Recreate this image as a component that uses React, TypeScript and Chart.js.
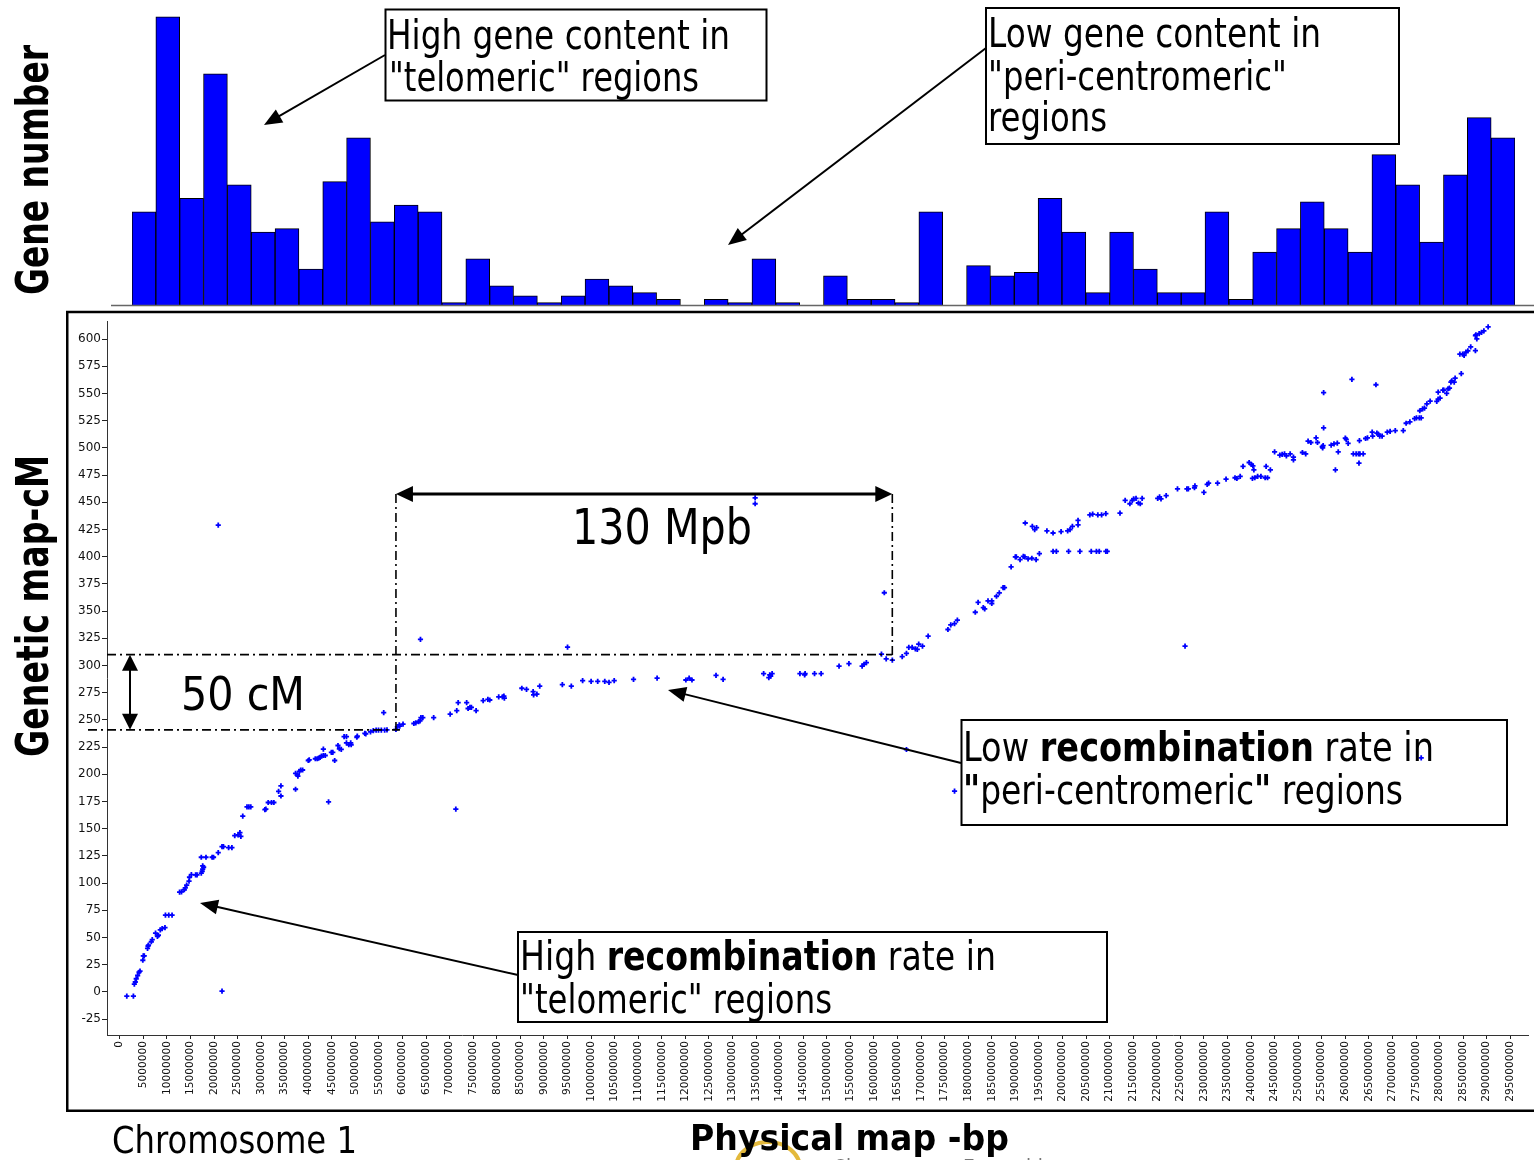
import React, { useEffect, useRef } from "react";
import { Chart, registerables } from "chart.js";

Chart.register(...registerables);
Chart.defaults.font.family = "DejaVu Sans";

// ---------- DATA ----------
// Gene number per 5 Mb bin (histogram on top)
const HIST_GENE_COUNTS = [
  28, 86, 32, 69, 36, 22, 23, 11, 37, 50, 25, 30, 28, 1, 14, 6, 3, 1, 3, 8,
  6, 4, 2, 0, 2, 1, 14, 1, 0, 9, 2, 2, 1, 28, 0, 12, 9, 10, 32, 22,
  4, 22, 11, 4, 4, 28, 2, 16, 23, 31, 23, 16, 45, 36, 19, 39, 56, 50,
];

// Physical position tick values (Mb) and their labels (bp)
const X_TICKS_MB = [
  0, 5, 10, 15, 20, 25, 30, 35, 40, 45, 50, 55, 60, 65, 70, 75, 80, 85, 90, 95,
  100, 105, 110, 115, 120, 125, 130, 135, 140, 145, 150, 155, 160, 165, 170, 175, 180, 185, 190, 195,
  200, 205, 210, 215, 220, 225, 230, 235, 240, 245, 250, 255, 260, 265, 270, 275, 280, 285, 290, 295,
];
const X_TICK_LABELS = [
  "0", "5000000", "10000000", "15000000", "20000000", "25000000", "30000000", "35000000", "40000000", "45000000",
  "50000000", "55000000", "60000000", "65000000", "70000000", "75000000", "80000000", "85000000", "90000000", "95000000",
  "100000000", "105000000", "110000000", "115000000", "120000000", "125000000", "130000000", "135000000", "140000000", "145000000",
  "150000000", "155000000", "160000000", "165000000", "170000000", "175000000", "180000000", "185000000", "190000000", "195000000",
  "200000000", "205000000", "210000000", "215000000", "220000000", "225000000", "230000000", "235000000", "240000000", "245000000",
  "250000000", "255000000", "260000000", "265000000", "270000000", "275000000", "280000000", "285000000", "290000000", "295000000",
];
const Y_TICKS_CM = [
  -25, 0, 25, 50, 75, 100, 125, 150, 175, 200, 225, 250, 275, 300, 325, 350, 375, 400, 425, 450,
  475, 500, 525, 550, 575, 600,
];
const X_RANGE_MB = [-2.7, 298.8];
const Y_RANGE_CM = [-39.7, 616.4];

// Marker positions: [physical position (Mb), genetic position (cM)]
const MARKERS: number[][] = [
  [1.5, -4], [2.9, -4], [3.1, 7], [3.3, 9], [3.5, 12], [3.8, 15], [4.1, 18], [4.3, 19],
  [4.9, 29], [5.0, 33], [5.2, 33], [5.9, 40], [6.0, 42], [6.1, 43], [6.7, 46], [6.9, 48],
  [7.6, 54], [8.0, 51], [8.2, 52], [8.6, 57], [9.0, 58], [9.6, 59], [9.7, 70.5], [10.4, 70.5], [11.1, 70.5],
  [12.7, 91.6], [13.1, 91.9], [13.7, 93.8], [13.9, 95.6], [14.2, 98], [14.7, 101.7], [14.8, 105.3], [15.2, 107.8], [16.1, 107.5], [16.4, 107.5],
  [17.3, 109], [17.5, 110.8], [17.6, 112.7], [17.8, 114.5], [17.6, 115.8], [17.3, 123.7], [18.3, 123.7], [19.6, 123.7], [19.9, 123.7],
  [20.9, 128], [20.9, 429], [21.7, 133.5], [22.0, 133.5], [21.7, 0.7], [23.1, 132.5], [23.8, 132.5],
  [24.4, 143.6], [25.1, 144.2], [25.5, 146.3], [25.7, 142.9], [26.1, 161.5], [27.0, 170], [27.4, 170], [27.8, 170],
  [30.8, 167.5], [31.0, 168], [31.5, 174], [32.2, 174], [32.7, 174], [33.7, 184.2], [34.2, 189.2], [34.2, 180],
  [37.3, 186.2], [37.3, 200.7], [37.7, 199.5], [37.8, 198.3], [38.1, 202.6], [38.4, 203.9], [38.8, 203.9],
  [40.0, 212.6], [40.2, 213.2], [41.5, 214.2], [41.9, 214.2], [42.2, 214.8], [42.5, 215.4], [42.8, 216.7], [43.2, 217.2], [43.6, 217.2],
  [43.2, 223], [44.3, 174.5], [44.9, 220], [45.2, 220], [45.6, 212.6], [46.3, 226.4], [46.6, 223.4], [47.0, 222.8],
  [47.6, 234.6], [48.1, 234.6], [48.1, 228.9], [48.6, 227.1], [49.1, 227.1], [49.0, 228.9], [50.3, 234], [50.4, 235],
  [52.0, 237.5], [52.2, 237], [53.2, 239], [53.8, 240], [54.4, 240.6], [54.9, 240.6], [55.5, 240.6], [56.2, 240.6], [56.7, 240.8],
  [56.0, 256.7], [58.6, 241.1], [58.9, 243.6], [59.3, 245.4], [59.4, 244.2], [60.1, 246.1],
  [62.4, 246.6], [62.8, 247.2], [63.4, 248.4], [63.7, 249.1], [63.9, 252], [64.3, 252], [63.8, 324], [66.6, 252],
  [70.1, 255.3], [71.3, 168], [71.5, 258.4], [71.8, 265.8], [73.6, 265.8], [73.9, 260.4], [74.3, 261.5], [74.6, 261.5], [75.6, 258.4],
  [77.1, 267.6], [78.1, 268.8], [78.5, 268.2], [80.4, 271.1], [81.2, 271.1], [81.5, 271.7], [81.6, 269.9],
  [85.3, 279], [86.3, 277.9], [87.7, 276], [87.8, 273], [88.5, 273.7], [89.1, 281], [93.9, 282.3], [95.0, 316.8], [95.8, 281],
  [98.2, 286], [100.0, 285.3], [101.4, 285.3], [102.9, 285.3], [103.8, 284.4], [104.9, 286], [109.0, 287.2], [114.0, 288.4],
  [120.1, 286.6], [120.8, 288.4], [121.4, 286.6], [126.5, 290.8], [128.0, 287.2], [134.8, 454], [134.8, 448.6],
  [136.6, 292.5], [137.7, 288.8], [137.9, 291.3], [138.1, 290.1], [138.4, 292.5],
  [144.3, 292.5], [145.3, 291.3], [145.4, 292.5], [147.4, 292.5], [148.8, 292.5],
  [152.6, 299.3], [154.7, 301.7], [157.5, 299.3], [157.9, 301.1], [158.4, 302.6],
  [161.6, 310.4], [162.2, 366.8], [162.6, 306.1], [163.9, 304.9],
  [166.0, 308], [166.9, 311], [166.9, 222.7], [167.4, 316.5], [168.1, 316.5], [168.8, 315.3], [169.2, 314.7], [169.5, 319.6], [170.3, 317.8],
  [171.5, 327], [175.7, 333], [176.3, 337.3], [177.1, 338.5], [177.1, 184.4], [177.7, 341.6],
  [181.5, 348.9], [182.1, 358], [183.2, 353.2], [183.5, 352], [184.2, 359.3], [185.0, 359.3], [185.0, 356.9], [186.0, 363.6], [186.6, 366.7], [187.4, 371.6], [187.7, 371.6],
  [189.1, 390.6], [190.0, 399.7], [190.2, 399.7], [191.0, 397.2], [191.7, 400.3], [192.0, 399.7], [192.7, 397.9], [193.5, 398.5], [194.4, 397.2], [195.1, 402.8],
  [192.1, 430.9], [193.6, 427.8], [194.1, 424.8], [194.5, 426.6], [196.7, 423.6], [198.0, 421.7], [199.7, 422.9], [201.1, 423.6], [201.6, 424.8], [202.1, 427.8], [203.3, 429.1], [203.3, 433.3],
  [198.0, 404.9], [198.7, 404.9], [201.3, 404.9], [203.7, 404.9], [206.1, 404.9], [207.2, 404.9], [207.8, 404.9], [209.2, 404.9], [209.5, 404.9],
  [205.8, 438.3], [206.4, 439], [207.5, 438.3], [208.3, 438.3], [209.2, 439.5], [212.2, 440],
  [213.3, 451.7], [214.3, 448.6], [214.8, 451.7], [215.1, 453], [215.6, 453.6], [216.1, 449.3], [216.5, 448.6], [216.9, 453.6],
  [220.2, 453.6], [220.6, 454.9], [220.9, 453.1], [222.0, 456.1],
  [224.4, 462.2], [226.0, 317.8], [226.4, 462.2], [226.7, 462.2], [228.0, 463.3], [228.1, 465.1], [230.0, 459], [230.7, 466.4], [231.0, 467.6], [232.9, 467.6],
  [234.7, 471.3], [236.6, 472.5], [237.0, 471.8], [237.7, 473.7], [238.3, 482.9],
  [239.6, 486.5], [240.1, 484.7], [240.4, 483.5], [240.6, 479.8], [240.3, 471.9], [240.8, 472.5],
  [241.4, 473.7], [242.1, 473.7], [243.0, 472.5], [243.5, 472.5], [243.2, 482.9], [244.1, 479.8], [245.0, 496.3],
  [246.1, 493.3], [246.6, 493.9], [247.1, 494.5], [247.5, 492.7], [248.3, 494.5], [249.0, 491.5], [249.0, 489],
  [250.9, 495.7], [251.6, 494.5], [252.1, 506.1], [252.7, 504.9], [253.8, 509.2], [254.1, 504.9],
  [255.4, 550.7], [255.4, 518.3], [255.2, 500], [255.3, 502], [255.1, 501],
  [257.0, 502.5], [257.6, 503.7], [258.3, 504.3], [257.9, 479.8], [258.5, 496.3],
  [260.0, 509], [260.2, 507.8], [260.6, 504.1], [261.4, 563],
  [261.7, 494.5], [262.3, 494.5], [262.8, 494.5], [263.1, 494.5], [263.8, 494.5], [262.9, 486], [263.0, 506.7],
  [264.3, 508.6], [264.7, 509.2], [265.7, 514.5], [265.8, 510.8], [266.7, 513.5], [267.0, 512.6], [267.3, 510.8], [267.8, 510.8], [266.5, 558],
  [268.9, 514.5], [269.5, 515.1], [270.6, 515.8], [272.3, 515.8], [272.9, 522.6], [273.7, 523.8],
  [274.7, 526.8], [275.1, 527.5], [275.7, 527.5], [276.1, 527.5], [275.8, 534.1], [276.4, 535.9], [276.8, 536.5], [276.1, 215],
  [277.3, 540.4], [278.0, 542.9], [279.4, 542.7], [279.7, 544.7], [280.1, 545.7], [279.7, 551.2],
  [280.7, 553], [280.9, 553], [281.5, 550], [281.8, 554.3], [282.1, 554.9],
  [282.4, 560.4], [282.6, 561.6], [283.1, 560.4], [283.3, 564.1], [284.6, 568.2],
  [284.3, 586.1], [284.9, 586.1], [285.2, 584.9], [285.6, 587.9], [286.0, 589.2], [286.6, 592.8], [287.6, 589.3],
  [287.6, 603.2], [287.9, 600.2], [287.7, 603.9], [288.4, 605.0], [288.9, 606.2], [289.4, 607.5], [290.3, 611.2],
];

// Annotation reference values
const SPAN_START_MB = 58.6;
const SPAN_END_MB = 163.9;
const SPAN_ARROW_CM = 457.5;
const CM_HIGH = 309.9;
const CM_LOW = 240.8;

// ---------- PLUGIN: dash-dot guides and double arrows ----------
function tri(ctx: any, tx: number, ty: number, dx: number, dy: number, len: number, half: number) {
  const L = Math.hypot(dx, dy);
  const ux = dx / L, uy = dy / L;
  const bx = tx - ux * len, by = ty - uy * len;
  ctx.beginPath();
  ctx.moveTo(tx, ty);
  ctx.lineTo(bx - uy * half, by + ux * half);
  ctx.lineTo(bx + uy * half, by - ux * half);
  ctx.closePath();
  ctx.fill();
}

const guidePlugin = {
  id: "guides",
  afterDraw(chart: any) {
    const { ctx, chartArea } = chart;
    const x = chart.scales.x, y = chart.scales.y;
    const xa = x.getPixelForValue(SPAN_START_MB);
    const xb = x.getPixelForValue(SPAN_END_MB);
    const ya = y.getPixelForValue(SPAN_ARROW_CM);
    const yt = y.getPixelForValue(CM_HIGH);
    const yb = y.getPixelForValue(CM_LOW);
    ctx.save();
    ctx.strokeStyle = "#000";
    ctx.fillStyle = "#000";
    ctx.lineWidth = 1.6;
    ctx.setLineDash([9, 4, 2, 4]);
    const seg = (x1: number, y1: number, x2: number, y2: number) => {
      ctx.beginPath();
      ctx.moveTo(x1, y1);
      ctx.lineTo(x2, y2);
      ctx.stroke();
    };
    seg(chartArea.left, yt, xb, yt);
    seg(chartArea.left - 19, yb, xa + 4, yb);
    seg(xa, ya, xa, yb);
    seg(xb, ya, xb, yt + 6);
    ctx.setLineDash([]);
    // horizontal double arrow
    ctx.lineWidth = 3;
    seg(xa + 12, ya, xb - 12, ya);
    tri(ctx, xa, ya, -1, 0, 17, 8);
    tri(ctx, xb, ya, 1, 0, 17, 8);
    // vertical double arrow
    const xv = chartArea.left + 23;
    ctx.lineWidth = 2;
    seg(xv, yt + 12, xv, yb - 12);
    tri(ctx, xv, yt, 0, -1, 16, 8);
    tri(ctx, xv, yb, 0, 1, 16, 8);
    ctx.restore();
  },
};

// ---------- SVG helpers ----------
const FONT = "DejaVu Sans";

function Arrow({ x1, y1, x2, y2, head = 18, half = 7.5, w = 2 }: any) {
  const L = Math.hypot(x2 - x1, y2 - y1);
  const ux = (x2 - x1) / L, uy = (y2 - y1) / L;
  const bx = x2 - ux * head, by = y2 - uy * head;
  const pts = `${x2},${y2} ${bx - uy * half},${by + ux * half} ${bx + uy * half},${by - ux * half}`;
  return (
    <g>
      <line x1={x1} y1={y1} x2={bx + ux * 2} y2={by + uy * 2} stroke="#000" strokeWidth={w} />
      <polygon points={pts} fill="#000" />
    </g>
  );
}

function T({ x, y, len, size, bold, children, fill = "#000" }: any) {
  return (
    <text
      x={x}
      y={y}
      fontFamily={FONT}
      fontSize={size}
      fontWeight={bold ? "bold" : "normal"}
      textLength={len}
      lengthAdjust="spacingAndGlyphs"
      fill={fill}
    >
      {children}
    </text>
  );
}

export default function App() {
  const histRef = useRef<HTMLCanvasElement | null>(null);
  const scatRef = useRef<HTMLCanvasElement | null>(null);

  useEffect(() => {
    document.body.style.margin = "0";
    const hist = new Chart(histRef.current as HTMLCanvasElement, {
      type: "bar",
      data: {
        labels: X_TICKS_MB.slice(0, HIST_GENE_COUNTS.length).map(String),
        datasets: [
          {
            data: HIST_GENE_COUNTS,
            backgroundColor: "#0000ff",
            borderColor: "#000",
            borderWidth: 1,
            barPercentage: 1,
            categoryPercentage: 1,
          },
        ],
      },
      options: {
        responsive: false,
        animation: false,
        devicePixelRatio: 1,
        layout: { padding: 0 },
        plugins: { legend: { display: false }, tooltip: { enabled: false } },
        scales: {
          x: { display: false },
          y: { display: false, min: 0, max: 88 },
        },
      },
    } as any);

    const scat = new Chart(scatRef.current as HTMLCanvasElement, {
      type: "scatter",
      data: {
        datasets: [
          {
            data: MARKERS.map(([x, y]) => ({ x, y })),
            pointStyle: "cross",
            pointRadius: 2.6,
            borderColor: "#0000ff",
            backgroundColor: "#0000ff",
            borderWidth: 1.8,
          },
        ],
      },
      options: {
        responsive: false,
        animation: false,
        devicePixelRatio: 1,
        layout: { padding: { top: 5, right: 4, left: 0, bottom: 0 } },
        plugins: { legend: { display: false }, tooltip: { enabled: false } },
        scales: {
          x: {
            type: "linear",
            min: X_RANGE_MB[0],
            max: X_RANGE_MB[1],
            afterBuildTicks: (s: any) => {
              s.ticks = X_TICKS_MB.map((v) => ({ value: v }));
            },
            afterFit: (s: any) => {
              s.height = 74;
            },
            ticks: {
              autoSkip: false,
              minRotation: 90,
              maxRotation: 90,
              padding: 2,
              color: "#111",
              font: { size: 10.6, family: FONT },
              callback: (_v: any, i: number) => X_TICK_LABELS[i],
            },
            grid: { drawOnChartArea: false, tickLength: 4, color: "#222" },
            border: { color: "#333", width: 1 },
          },
          y: {
            type: "linear",
            min: Y_RANGE_CM[0],
            max: Y_RANGE_CM[1],
            afterBuildTicks: (s: any) => {
              s.ticks = Y_TICKS_CM.map((v) => ({ value: v }));
            },
            afterFit: (s: any) => {
              s.width = 39;
            },
            ticks: {
              padding: 1,
              color: "#111",
              font: { size: 12, family: FONT },
              callback: (v: any) => String(v),
            },
            grid: { drawOnChartArea: false, tickLength: 5, color: "#222" },
            border: { color: "#333", width: 1 },
          },
        },
      },
      plugins: [guidePlugin],
    } as any);

    return () => {
      hist.destroy();
      scat.destroy();
    };
  }, []);

  return (
    <div
      style={{
        position: "absolute",
        left: 0,
        top: 0,
        width: 1534,
        height: 1160,
        overflow: "hidden",
        background: "#fff",
      }}
    >
      <canvas
        ref={histRef}
        width={1383}
        height={296}
        style={{ position: "absolute", left: 132, top: 10, width: 1383, height: 296 }}
      />
      <canvas
        ref={scatRef}
        width={1466}
        height={796}
        style={{ position: "absolute", left: 68, top: 313, width: 1466, height: 796 }}
      />
      <svg
        width={1534}
        height={1160}
        style={{ position: "absolute", left: 0, top: 0, pointerEvents: "none" }}
      >
        {/* logo ring behind title */}
        <ellipse cx={768} cy={1168} rx={32} ry={26} fill="none" stroke="#e3b93c" strokeWidth={4} />
        {/* histogram baseline */}
        <line x1={111} y1={305.5} x2={1534} y2={305.5} stroke="#666" strokeWidth={1.5} />
        {/* scatter frame */}
        <rect x={67.25} y={312} width={1500} height={798.75} fill="none" stroke="#000" strokeWidth={2.5} />

        {/* axis titles */}
        <text
          transform="translate(48,295) rotate(-90)"
          fontFamily={FONT}
          fontSize={44}
          fontWeight="bold"
          textLength={250}
          lengthAdjust="spacingAndGlyphs"
        >
          Gene number
        </text>
        <text
          transform="translate(48,757) rotate(-90)"
          fontFamily={FONT}
          fontSize={44}
          fontWeight="bold"
          textLength={302}
          lengthAdjust="spacingAndGlyphs"
        >
          Genetic map-cM
        </text>
        <T x={112} y={1153} len={245} size={37}>Chromosome 1</T>
        <T x={690} y={1150} len={319} size={35} bold>Physical map -bp</T>
        <T x={833} y={1177} len={210} size={24} fill="#777">Chromosome Ensembl</T>

        {/* top-left callout */}
        <rect x={385.5} y={9.5} width={381} height={91} fill="#fff" stroke="#000" strokeWidth={2} />
        <T x={387} y={49} len={343} size={40}>High gene content in</T>
        <T x={389} y={91} len={310} size={40}>"telomeric" regions</T>
        <Arrow x1={385} y1={55} x2={264} y2={125} />

        {/* top-right callout */}
        <rect x={986} y={8} width={413} height={136} fill="#fff" stroke="#000" strokeWidth={2} />
        <T x={988} y={46.5} len={333} size={40}>Low gene content in</T>
        <T x={988} y={90} len={299} size={40}>"peri-centromeric"</T>
        <T x={988} y={131} len={119} size={40}>regions</T>
        <Arrow x1={986} y1={48} x2={728} y2={245} />

        {/* span labels */}
        <T x={572} y={544} len={180} size={50}>130 Mpb</T>
        <T x={181} y={710} len={124} size={47}>50 cM</T>

        {/* low recombination callout */}
        <rect x={961.5} y={720} width={545.5} height={105} fill="none" stroke="#000" strokeWidth={2} />
        <T x={963} y={761} len={471} size={40}>
          Low <tspan fontWeight="bold">recombination</tspan> rate in
        </T>
        <T x={963} y={804} len={440} size={40}>
          <tspan fontWeight="bold">"</tspan>peri-centromeric<tspan fontWeight="bold">"</tspan> regions
        </T>
        <Arrow x1={961} y1={763} x2={668} y2={690} />

        {/* high recombination callout */}
        <rect x={518} y={932} width={589} height={90} fill="#fff" stroke="#000" strokeWidth={2} />
        <T x={520} y={970} len={476} size={40}>
          High <tspan fontWeight="bold">recombination</tspan> rate in
        </T>
        <T x={520} y={1013} len={312} size={40}>"telomeric" regions</T>
        <Arrow x1={518} y1={975} x2={200} y2={903} />
      </svg>
    </div>
  );
}
